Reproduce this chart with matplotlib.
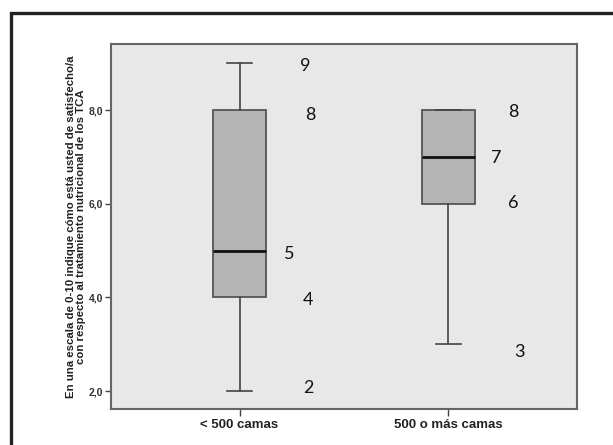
import matplotlib
matplotlib.use("Agg")
import matplotlib.pyplot as plt
from matplotlib.lines import Line2D

# ---- data ----
categories = ["< 500 camas", "500 o más camas"]
whisker_low = [2, 3]
q1 = [4, 6]
median = [5, 7]
q3 = [8, 8]
whisker_high = [9, 8]

# value labels drawn next to the boxes (text, x, y in data coords)
label_texts = [["9", "8", "5", "4", "2"], ["8", "7", "6", "3"]]
label_x = [[1.313, 1.337, 1.24, 1.33, 1.33], [2.31, 2.23, 2.31, 2.34]]
label_y = [[8.94, 7.9, 4.93, 3.94, 2.06], [7.96, 6.98, 6.01, 2.83]]

y_ticks = [2, 4, 6, 8]
y_tick_labels = ["2,0", "4,0", "6,0", "8,0"]
y_label = ("En una escala de 0-10 indique cómo está usted de satisfecho/a\n"
           "con respecto al tratamiento nutricional de los TCA")

# ---- figure ----
fig = plt.figure(figsize=(6.13, 4.45), dpi=100)
ax = fig.add_axes([111 / 613, 1 - 409 / 445, (577 - 111) / 613, (409 - 44) / 445])
ax.set_facecolor("#e8e8e8")

stats = []
for i, c in enumerate(categories):
    stats.append(dict(label=c, whislo=whisker_low[i], q1=q1[i], med=median[i],
                      q3=q3[i], whishi=whisker_high[i], fliers=[]))

ax.bxp(stats, positions=[1, 2], widths=0.254, patch_artist=True, showfliers=False,
       boxprops=dict(facecolor="#b4b4b4", edgecolor="#555555", linewidth=1.3),
       medianprops=dict(color="#111111", linewidth=2.0),
       whiskerprops=dict(color="#444444", linewidth=1.2),
       capprops=dict(color="#444444", linewidth=1.2),
       capwidths=0.124)

for texts, xs, ys in zip(label_texts, label_x, label_y):
    for t, x, y in zip(texts, xs, ys):
        ax.text(x, y, t, ha="center", va="center", fontsize=13,
                family="Lato", color="#111111")

ax.set_xlim(0.385, 2.615)
ax.set_ylim(1.616, 9.41)
ax.set_yticks(y_ticks)
ax.set_yticklabels(y_tick_labels, fontsize=7.5, family="Liberation Sans",
                   fontweight="bold", color="#333333")
ax.set_xticks([1, 2])
ax.set_xticklabels(categories, fontsize=9.5, family="Liberation Sans",
                   fontweight="bold", color="#222222")
ax.tick_params(axis="y", length=4.5, width=1, color="#444444", pad=1)
ax.tick_params(axis="x", length=5, width=1, color="#444444", pad=2)

for s in ax.spines.values():
    s.set_color("#666666")
    s.set_linewidth(1.5)

ax.set_ylabel(y_label, fontsize=8.2, family="Liberation Sans", fontweight="bold",
              color="#222222", linespacing=1.0, labelpad=2)

# outer frame (top and left edges visible)
fig.add_artist(Line2D([10.5 / 613, 10.5 / 613, 1], [0, 1 - 13 / 445, 1 - 13 / 445],
                      transform=fig.transFigure, color="#222222", linewidth=2.4,
                      solid_joinstyle="miter", solid_capstyle="butt"))

fig.savefig("out.png", dpi=100)
